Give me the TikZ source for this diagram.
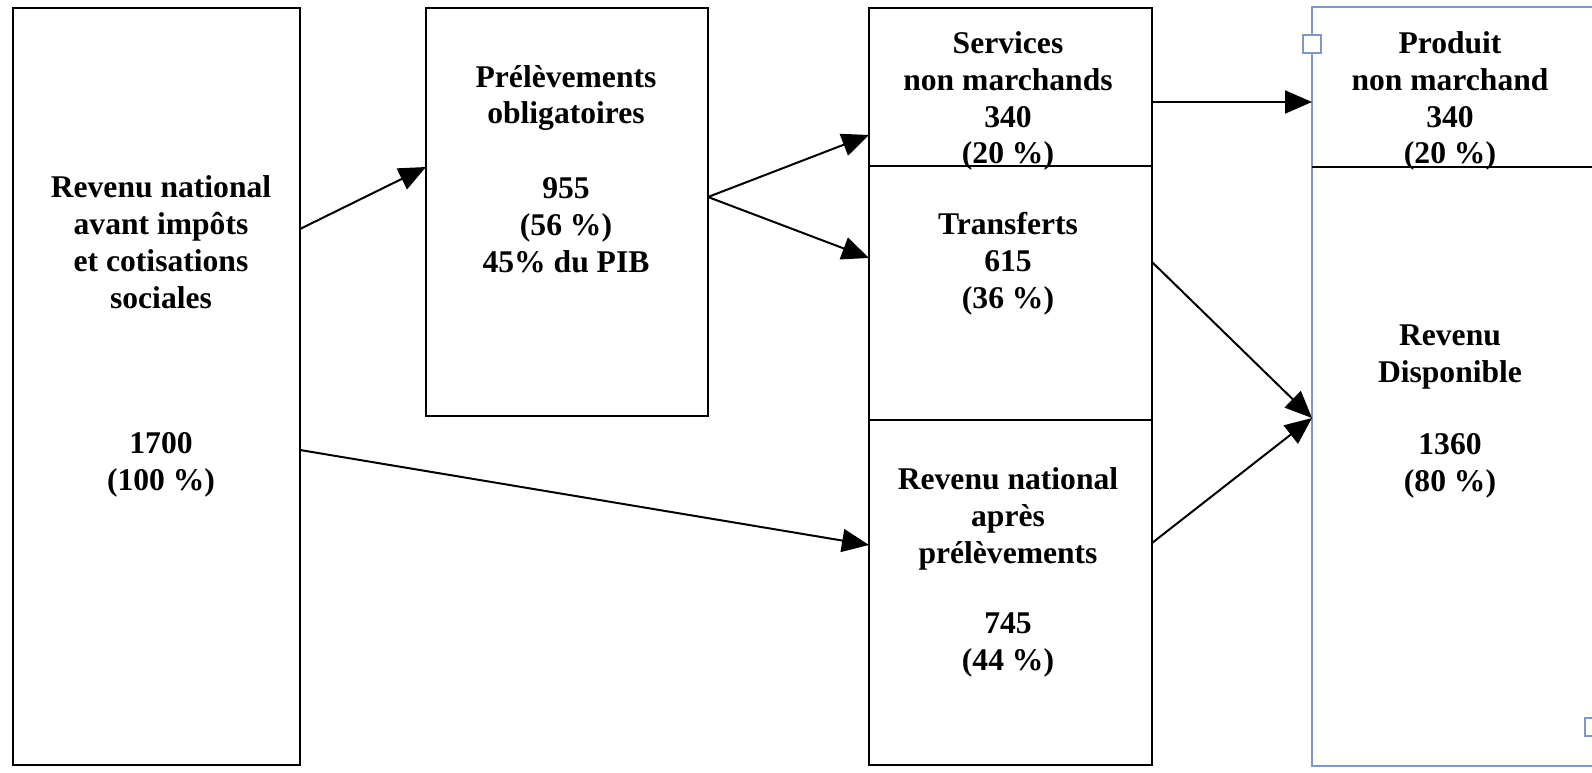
\documentclass[tikz,border=0pt]{standalone}
\usepackage{fontspec}
\setmainfont{Liberation Serif}
\usetikzlibrary{arrows.meta}
\definecolor{selblue}{RGB}{127,150,200}
\tikzset{
  box/.style={draw=black, line width=1pt, rectangle, inner sep=0pt, outer sep=0pt},
  lbl/.style={align=center, inner sep=0pt, font=\fontsize{15.8}{18.4}\selectfont\bfseries},
  flow/.style={line width=1pt, -{Triangle[length=13.5pt,width=11.5pt]}},
  handle/.style={draw=selblue, fill=white, line width=0.6pt, minimum size=9pt, inner sep=0pt}
}
\begin{document}
\begin{tikzpicture}[x=0.5pt,y=-0.5pt]
\useasboundingbox (0,0) rectangle (1592,772);
% boxes
\node[box, minimum width=143.5pt, minimum height=378.5pt] (L) at (156.5,386.5) {};
\node[box, minimum width=141pt, minimum height=204pt] (P) at (567,212) {};
\node[box, minimum width=141.5pt, minimum height=79pt] (S) at (1010.5,87) {};
\node[box, minimum width=141.5pt, minimum height=127pt] (T) at (1010.5,293) {};
\node[box, minimum width=141.5pt, minimum height=172.5pt] (A) at (1010.5,592.5) {};
\node[box, draw=selblue, minimum width=141.5pt, minimum height=379.5pt] (R) at (1453.5,386.5) {};
\draw[line width=1pt] (R.west |- 0,167) coordinate (Rd) -- (R.east |- 0,167);
\node[handle] (h1) at (1312,44) {};
\node[handle] (h2) at (1594,727) {};
% texts
\node[lbl] (tL1) at (161,242) {Revenu national\\avant impôts\\et cotisations\\sociales};
\node[lbl] (tL2) at (161,465) {1700\\(100 \%)};
\node[lbl] (tP1) at (566,98) {Prélèvements\\obligatoires};
\node[lbl] (tP2) at (566,225) {955\\(56 \%)\\45\% du PIB};
\node[lbl] (tS) at (1008,101) {Services\\non marchands\\340\\(20 \%)};
\node[lbl] (tT) at (1008,264) {Transferts\\615\\(36 \%)};
\node[lbl] (tA1) at (1008,519) {Revenu national\\après\\prélèvements};
\node[lbl] (tA2) at (1008,645) {745\\(44 \%)};
\node[lbl] (tR1) at (1450,101) {Produit\\non marchand\\340\\(20 \%)};
\node[lbl] (tR2) at (1450,357) {Revenu\\Disponible};
\node[lbl] (tR3) at (1450,466) {1360\\(80 \%)};
% arrows
\draw[flow] (L.east |- 0,229) -- (P.west |- 0,167);
\draw[flow] (P.east |- 0,197) -- (S.west |- 0,135);
\draw[flow] (P.east |- 0,197) -- (T.west |- 0,258);
\draw[flow] (L.east |- 0,450) -- (A.west |- 0,545);
\draw[flow] (S.east |- 0,102) -- (R.west |- 0,102);
\draw[flow] (T.east |- 0,262) -- (R.west |- 0,418);
\draw[flow] (A.east |- 0,543) -- (R.west |- 0,418);
\end{tikzpicture}
\end{document}
